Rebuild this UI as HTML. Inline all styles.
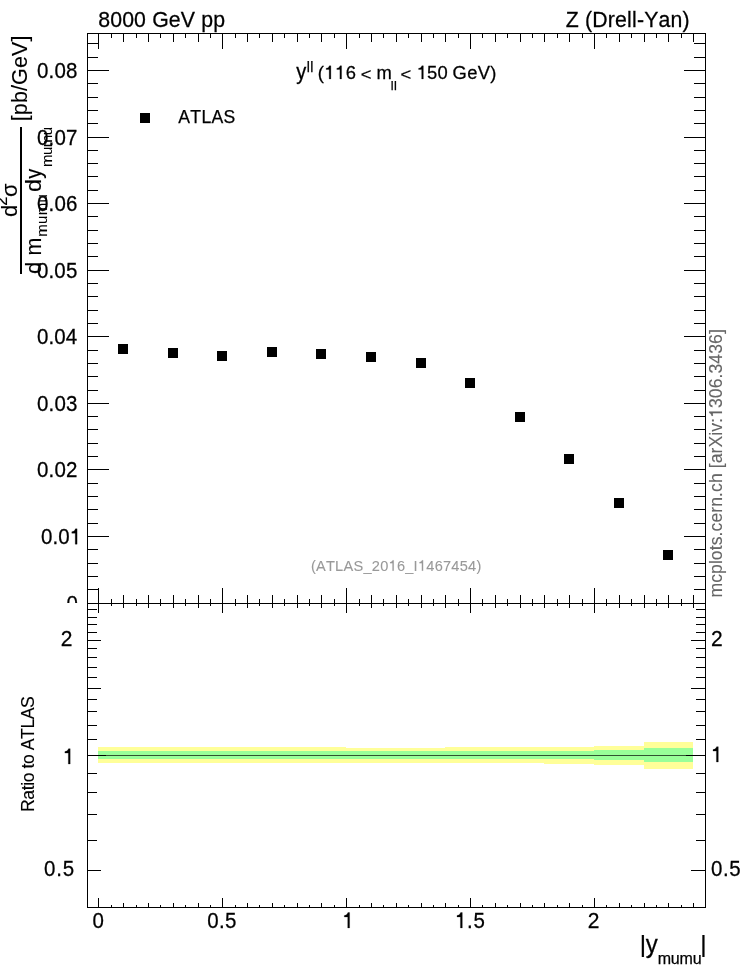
<!DOCTYPE html>
<html><head><meta charset="utf-8"><title>Z (Drell-Yan) 8000 GeV pp</title>
<style>
html,body{margin:0;padding:0;background:#fff;}
body{width:746px;height:972px;overflow:hidden;}
svg{display:block;will-change:transform;}
text{font-family:"Liberation Sans",sans-serif;font-kerning:none;}
</style></head><body>
<svg width="746" height="972" viewBox="0 0 746 972">
<rect x="0" y="0" width="746" height="972" fill="#fff"/>
<clipPath id="cu"><rect x="0" y="0" width="746" height="603"/></clipPath>
<g clip-path="url(#cu)">
<text transform="translate(66.40 611.20) scale(1 1.0900)" font-size="20.5" stroke="#000" stroke-width="0.25">0</text>
<text transform="translate(41.10 544.20) scale(1 1.0900)" font-size="20.5" x="0.00 11.45 17.19 28.64" stroke="#000" stroke-width="0.25">0.0 </text>
<path transform="translate(41.10 544.20) scale(1 1.0900) translate(28.64 0) scale(0.01001 -0.01001)" d="M735 0H550V1005H207V1140Q400 1160 480 1260Q540 1340 570 1409H735Z" fill="#000" stroke="#000" stroke-width="25.0"/>
<text transform="translate(36.90 477.20) scale(1 1.0900)" font-size="20.5" x="0.00 11.65 17.59 29.23" stroke="#000" stroke-width="0.25">0.02</text>
<text transform="translate(36.90 411.20) scale(1 1.0900)" font-size="20.5" x="0.00 11.60 17.50 29.10" stroke="#000" stroke-width="0.25">0.03</text>
<text transform="translate(36.90 344.20) scale(1 1.0900)" font-size="20.5" x="0.00 11.50 17.30 28.80" stroke="#000" stroke-width="0.25">0.04</text>
<text transform="translate(36.90 278.20) scale(1 1.0900)" font-size="20.5" x="0.00 11.59 17.47 29.06" stroke="#000" stroke-width="0.25">0.05</text>
<text transform="translate(36.90 211.20) scale(1 1.0900)" font-size="20.5" x="0.00 11.60 17.50 29.10" stroke="#000" stroke-width="0.25">0.06</text>
<text transform="translate(36.90 145.20) scale(1 1.0900)" font-size="20.5" x="0.00 11.65 17.59 29.23" stroke="#000" stroke-width="0.25">0.07</text>
<text transform="translate(36.90 78.20) scale(1 1.0900)" font-size="20.5" x="0.00 11.60 17.49 29.09" stroke="#000" stroke-width="0.25">0.08</text>
</g>
<g shape-rendering="crispEdges">
<rect x="98" y="747" width="248" height="16" fill="#ffff99"/>
<rect x="98" y="751" width="248" height="8" fill="#99ff99"/>
<rect x="346" y="748" width="99" height="15" fill="#ffff99"/>
<rect x="346" y="751" width="99" height="8" fill="#99ff99"/>
<rect x="445" y="747" width="99" height="16" fill="#ffff99"/>
<rect x="445" y="751" width="99" height="8" fill="#99ff99"/>
<rect x="544" y="747" width="50" height="17" fill="#ffff99"/>
<rect x="544" y="751" width="50" height="8" fill="#99ff99"/>
<rect x="594" y="746" width="50" height="19" fill="#ffff99"/>
<rect x="594" y="750" width="50" height="10" fill="#99ff99"/>
<rect x="644" y="742" width="49" height="27" fill="#ffff99"/>
<rect x="644" y="748" width="49" height="14" fill="#99ff99"/>
<rect x="88" y="755" width="617" height="1" fill="#000" fill-opacity="0.68"/>
<path fill="#000" d="M87 33h619v1h-619zM87 603h619v1h-619zM87 907h619v1h-619zM87 33h1v875h-1zM705 33h1v875h-1zM98 34h1v15h-1zM98 588h1v15h-1zM98 604h1v9h-1zM98 898h1v9h-1zM111 34h1v4h-1zM111 599h1v4h-1zM111 604h1v2h-1zM111 905h1v2h-1zM123 34h1v8h-1zM123 595h1v8h-1zM123 604h1v4h-1zM123 903h1v4h-1zM136 34h1v4h-1zM136 599h1v4h-1zM136 604h1v2h-1zM136 905h1v2h-1zM148 34h1v8h-1zM148 595h1v8h-1zM148 604h1v4h-1zM148 903h1v4h-1zM160 34h1v4h-1zM160 599h1v4h-1zM160 604h1v2h-1zM160 905h1v2h-1zM173 34h1v8h-1zM173 595h1v8h-1zM173 604h1v4h-1zM173 903h1v4h-1zM185 34h1v4h-1zM185 599h1v4h-1zM185 604h1v2h-1zM185 905h1v2h-1zM198 34h1v8h-1zM198 595h1v8h-1zM198 604h1v4h-1zM198 903h1v4h-1zM210 34h1v4h-1zM210 599h1v4h-1zM210 604h1v2h-1zM210 905h1v2h-1zM222 34h1v15h-1zM222 588h1v15h-1zM222 604h1v9h-1zM222 898h1v9h-1zM235 34h1v4h-1zM235 599h1v4h-1zM235 604h1v2h-1zM235 905h1v2h-1zM247 34h1v8h-1zM247 595h1v8h-1zM247 604h1v4h-1zM247 903h1v4h-1zM259 34h1v4h-1zM259 599h1v4h-1zM259 604h1v2h-1zM259 905h1v2h-1zM272 34h1v8h-1zM272 595h1v8h-1zM272 604h1v4h-1zM272 903h1v4h-1zM284 34h1v4h-1zM284 599h1v4h-1zM284 604h1v2h-1zM284 905h1v2h-1zM297 34h1v8h-1zM297 595h1v8h-1zM297 604h1v4h-1zM297 903h1v4h-1zM309 34h1v4h-1zM309 599h1v4h-1zM309 604h1v2h-1zM309 905h1v2h-1zM321 34h1v8h-1zM321 595h1v8h-1zM321 604h1v4h-1zM321 903h1v4h-1zM334 34h1v4h-1zM334 599h1v4h-1zM334 604h1v2h-1zM334 905h1v2h-1zM346 34h1v15h-1zM346 588h1v15h-1zM346 604h1v9h-1zM346 898h1v9h-1zM359 34h1v4h-1zM359 599h1v4h-1zM359 604h1v2h-1zM359 905h1v2h-1zM371 34h1v8h-1zM371 595h1v8h-1zM371 604h1v4h-1zM371 903h1v4h-1zM383 34h1v4h-1zM383 599h1v4h-1zM383 604h1v2h-1zM383 905h1v2h-1zM396 34h1v8h-1zM396 595h1v8h-1zM396 604h1v4h-1zM396 903h1v4h-1zM408 34h1v4h-1zM408 599h1v4h-1zM408 604h1v2h-1zM408 905h1v2h-1zM421 34h1v8h-1zM421 595h1v8h-1zM421 604h1v4h-1zM421 903h1v4h-1zM433 34h1v4h-1zM433 599h1v4h-1zM433 604h1v2h-1zM433 905h1v2h-1zM445 34h1v8h-1zM445 595h1v8h-1zM445 604h1v4h-1zM445 903h1v4h-1zM458 34h1v4h-1zM458 599h1v4h-1zM458 604h1v2h-1zM458 905h1v2h-1zM470 34h1v15h-1zM470 588h1v15h-1zM470 604h1v9h-1zM470 898h1v9h-1zM482 34h1v4h-1zM482 599h1v4h-1zM482 604h1v2h-1zM482 905h1v2h-1zM495 34h1v8h-1zM495 595h1v8h-1zM495 604h1v4h-1zM495 903h1v4h-1zM507 34h1v4h-1zM507 599h1v4h-1zM507 604h1v2h-1zM507 905h1v2h-1zM520 34h1v8h-1zM520 595h1v8h-1zM520 604h1v4h-1zM520 903h1v4h-1zM532 34h1v4h-1zM532 599h1v4h-1zM532 604h1v2h-1zM532 905h1v2h-1zM544 34h1v8h-1zM544 595h1v8h-1zM544 604h1v4h-1zM544 903h1v4h-1zM557 34h1v4h-1zM557 599h1v4h-1zM557 604h1v2h-1zM557 905h1v2h-1zM569 34h1v8h-1zM569 595h1v8h-1zM569 604h1v4h-1zM569 903h1v4h-1zM582 34h1v4h-1zM582 599h1v4h-1zM582 604h1v2h-1zM582 905h1v2h-1zM594 34h1v15h-1zM594 588h1v15h-1zM594 604h1v9h-1zM594 898h1v9h-1zM606 34h1v4h-1zM606 599h1v4h-1zM606 604h1v2h-1zM606 905h1v2h-1zM619 34h1v8h-1zM619 595h1v8h-1zM619 604h1v4h-1zM619 903h1v4h-1zM631 34h1v4h-1zM631 599h1v4h-1zM631 604h1v2h-1zM631 905h1v2h-1zM644 34h1v8h-1zM644 595h1v8h-1zM644 604h1v4h-1zM644 903h1v4h-1zM656 34h1v4h-1zM656 599h1v4h-1zM656 604h1v2h-1zM656 905h1v2h-1zM668 34h1v8h-1zM668 595h1v8h-1zM668 604h1v4h-1zM668 903h1v4h-1zM681 34h1v4h-1zM681 599h1v4h-1zM681 604h1v2h-1zM681 905h1v2h-1zM693 34h1v8h-1zM693 595h1v8h-1zM693 604h1v4h-1zM693 903h1v4h-1zM88 589h10v1h-10zM694 589h11v1h-11zM88 576h10v1h-10zM694 576h11v1h-11zM88 563h10v1h-10zM694 563h11v1h-11zM88 549h10v1h-10zM694 549h11v1h-11zM88 536h21v1h-21zM684 536h21v1h-21zM88 523h10v1h-10zM694 523h11v1h-11zM88 509h10v1h-10zM694 509h11v1h-11zM88 496h10v1h-10zM694 496h11v1h-11zM88 483h10v1h-10zM694 483h11v1h-11zM88 469h21v1h-21zM684 469h21v1h-21zM88 456h10v1h-10zM694 456h11v1h-11zM88 443h10v1h-10zM694 443h11v1h-11zM88 429h10v1h-10zM694 429h11v1h-11zM88 416h10v1h-10zM694 416h11v1h-11zM88 403h21v1h-21zM684 403h21v1h-21zM88 390h10v1h-10zM694 390h11v1h-11zM88 376h10v1h-10zM694 376h11v1h-11zM88 363h10v1h-10zM694 363h11v1h-11zM88 350h10v1h-10zM694 350h11v1h-11zM88 336h21v1h-21zM684 336h21v1h-21zM88 323h10v1h-10zM694 323h11v1h-11zM88 310h10v1h-10zM694 310h11v1h-11zM88 296h10v1h-10zM694 296h11v1h-11zM88 283h10v1h-10zM694 283h11v1h-11zM88 270h21v1h-21zM684 270h21v1h-21zM88 256h10v1h-10zM694 256h11v1h-11zM88 243h10v1h-10zM694 243h11v1h-11zM88 230h10v1h-10zM694 230h11v1h-11zM88 216h10v1h-10zM694 216h11v1h-11zM88 203h21v1h-21zM684 203h21v1h-21zM88 190h10v1h-10zM694 190h11v1h-11zM88 176h10v1h-10zM694 176h11v1h-11zM88 163h10v1h-10zM694 163h11v1h-11zM88 150h10v1h-10zM694 150h11v1h-11zM88 137h21v1h-21zM684 137h21v1h-21zM88 123h10v1h-10zM694 123h11v1h-11zM88 110h10v1h-10zM694 110h11v1h-11zM88 97h10v1h-10zM694 97h11v1h-11zM88 83h10v1h-10zM694 83h11v1h-11zM88 70h21v1h-21zM684 70h21v1h-21zM88 57h10v1h-10zM694 57h11v1h-11zM88 43h10v1h-10zM694 43h11v1h-11zM88 870h13v1h-13zM691 870h14v1h-14zM88 840h9v1h-9zM696 840h9v1h-9zM88 814h9v1h-9zM696 814h9v1h-9zM88 792h9v1h-9zM696 792h9v1h-9zM88 773h9v1h-9zM696 773h9v1h-9zM88 755h18v1h-18zM686 755h19v1h-19zM88 739h9v1h-9zM696 739h9v1h-9zM88 725h9v1h-9zM696 725h9v1h-9zM88 711h9v1h-9zM696 711h9v1h-9zM88 699h9v1h-9zM696 699h9v1h-9zM88 688h13v1h-13zM691 688h14v1h-14zM88 677h9v1h-9zM696 677h9v1h-9zM88 667h9v1h-9zM696 667h9v1h-9zM88 657h9v1h-9zM696 657h9v1h-9zM88 648h9v1h-9zM696 648h9v1h-9zM88 640h13v1h-13zM691 640h14v1h-14zM88 632h9v1h-9zM696 632h9v1h-9zM88 624h9v1h-9zM696 624h9v1h-9zM88 617h9v1h-9zM696 617h9v1h-9zM88 609h9v1h-9zM696 609h9v1h-9zM118 344h10v10h-10zM168 348h10v10h-10zM217 351h10v10h-10zM267 347h10v10h-10zM316 349h10v10h-10zM366 352h10v10h-10zM416 358h10v10h-10zM465 378h10v10h-10zM515 412h10v10h-10zM564 454h10v10h-10zM614 498h10v10h-10zM663 550h10v10h-10zM140 113h10v10h-10zM20 127h2v147h-2z"/>
</g>
<text transform="translate(98.17 27.00) scale(1 1.0750)" font-size="21.3" x="0.00 11.98 23.97 35.95 47.94 54.00 70.70 82.69 97.03 103.09 115.07" stroke="#000" stroke-width="0.25">8000 GeV pp</text>
<text transform="translate(565.72 27.00) scale(1 1.0750)" font-size="21.3" x="0.00 13.19 19.28 26.55 42.11 49.37 61.40 66.30 71.21 78.48 92.86 104.88 116.90" stroke="#000" stroke-width="0.25">Z (Drell-Yan)</text>
<text transform="translate(296.15 79.00) scale(1 1.1000)" font-size="20.0" stroke="#000" stroke-width="0.25">y</text>
<text transform="translate(306.76 71.50) scale(1 1.0000)" font-size="14.0" x="0.00 3.47" stroke="#000" stroke-width="0.25">ll</text>
<text transform="translate(317.66 78.90) scale(1 1.0350)" font-size="18.4" x="0.00 6.60 17.31 28.02" stroke="#000" stroke-width="0.25">(  6</text>
<path transform="translate(317.66 78.90) scale(1 1.0350) translate(6.60 0) scale(0.00898 -0.00898)" d="M735 0H550V1005H207V1140Q400 1160 480 1260Q540 1340 570 1409H735Z" fill="#000" stroke="#000" stroke-width="27.8"/>
<path transform="translate(317.66 78.90) scale(1 1.0350) translate(17.31 0) scale(0.00898 -0.00898)" d="M735 0H550V1005H207V1140Q400 1160 480 1260Q540 1340 570 1409H735Z" fill="#000" stroke="#000" stroke-width="27.8"/>
<text transform="translate(360.69 80.40) scale(1 0.8900)" font-size="18.4" stroke="#000" stroke-width="0.25">&lt;</text>
<text transform="translate(376.38 78.90) scale(1 1.0350)" font-size="18.4" stroke="#000" stroke-width="0.25">m</text>
<text transform="translate(390.64 89.70) scale(1 1.0000)" font-size="12.8" x="0.00 3.38" stroke="#000" stroke-width="0.25">ll</text>
<text transform="translate(400.49 80.40) scale(1 0.8900)" font-size="18.4" stroke="#000" stroke-width="0.25">&lt;</text>
<text transform="translate(416.74 78.90) scale(1 1.0350)" font-size="18.4" x="0.00 10.37 20.75" stroke="#000" stroke-width="0.25"> 50</text>
<path transform="translate(416.74 78.90) scale(1 1.0350) translate(0.00 0) scale(0.00898 -0.00898)" d="M735 0H550V1005H207V1140Q400 1160 480 1260Q540 1340 570 1409H735Z" fill="#000" stroke="#000" stroke-width="27.8"/>
<text transform="translate(452.57 78.90) scale(1 1.0350)" font-size="18.4" x="0.00 14.59 25.09 37.64" stroke="#000" stroke-width="0.25">GeV)</text>
<text transform="translate(178.27 122.60) scale(1 1.0000)" font-size="17.6" x="0.00 12.06 23.13 33.24 45.30" stroke="#000" stroke-width="0.25">ATLAS</text>
<text transform="translate(310.89 570.70) scale(1 1.0400)" font-size="14.6" x="0.00 5.10 15.08 24.24 32.60 42.58 52.56 60.92 69.28 77.64 86.00 94.36 102.73 107.02 115.38 123.74 132.11 140.47 148.83 157.19 165.55" fill="#999999" stroke="#999999" stroke-width="0.1">(ATLAS_20 6_I 467454)</text>
<path transform="translate(310.89 570.70) scale(1 1.0400) translate(77.64 0) scale(0.00713 -0.00713)" d="M735 0H550V1005H207V1140Q400 1160 480 1260Q540 1340 570 1409H735Z" fill="#999999" stroke="#999999" stroke-width="14.0"/>
<path transform="translate(310.89 570.70) scale(1 1.0400) translate(107.02 0) scale(0.00713 -0.00713)" d="M735 0H550V1005H207V1140Q400 1160 480 1260Q540 1340 570 1409H735Z" fill="#999999" stroke="#999999" stroke-width="14.0"/>
<text transform="translate(722.00 597.57) rotate(-90) scale(1 1.0600)" font-size="17.6" x="0.00 14.73 23.61 33.47 37.45 47.31 52.27 61.15 66.11 74.98 84.84 90.78 100.64 105.60 114.47 124.33 129.30 134.26 144.12 150.05 161.87 165.85 174.72 179.68 189.54 199.41 209.27 219.13 224.09 233.95 243.81 253.67 263.53" fill="#666666" stroke="#666666" stroke-width="0.1">mcplots.cern.ch [arXiv: 306.3436]</text>
<path transform="translate(722.00 597.57) rotate(-90) scale(1 1.0600) translate(179.68 0) scale(0.00859 -0.00859)" d="M735 0H550V1005H207V1140Q400 1160 480 1260Q540 1340 570 1409H735Z" fill="#666666" stroke="#666666" stroke-width="11.6"/>
<text transform="translate(34.10 811.94) rotate(-90) scale(1 1.0000)" font-size="17.6" x="0.00 12.28 21.64 26.11 29.59 38.95 43.42 47.88 57.24 61.70 73.01 83.34 92.70 104.01" stroke="#000" stroke-width="0.1">Ratio to ATLAS</text>
<text transform="translate(60.74 646.00) scale(1 1.0600)" font-size="21.0" stroke="#000" stroke-width="0.25">2</text>
<path transform="translate(62.83 764.00) scale(1 1.0870) translate(0.00 0) scale(0.01001 -0.01001)" d="M735 0H550V1005H207V1140Q400 1160 480 1260Q540 1340 570 1409H735Z" fill="#000" stroke="#000" stroke-width="25.0"/>
<text transform="translate(43.90 876.40) scale(1 1.0870)" font-size="20.5" x="0.00 12.33 18.96" stroke="#000" stroke-width="0.25">0.5</text>
<text transform="translate(711.04 646.00) scale(1 1.0600)" font-size="21.0" stroke="#000" stroke-width="0.25">2</text>
<path transform="translate(710.93 762.00) scale(1 1.0870) translate(0.00 0) scale(0.01001 -0.01001)" d="M735 0H550V1005H207V1140Q400 1160 480 1260Q540 1340 570 1409H735Z" fill="#000" stroke="#000" stroke-width="25.0"/>
<text transform="translate(711.10 876.40) scale(1 1.0870)" font-size="20.5" x="0.00 11.98 18.26" stroke="#000" stroke-width="0.25">0.5</text>
<text transform="translate(92.40 927.90) scale(1 1.0870)" font-size="20.5" stroke="#000" stroke-width="0.25">0</text>
<text transform="translate(207.20 927.90) scale(1 1.0870)" font-size="20.5" x="0.00 11.78 17.86" stroke="#000" stroke-width="0.25">0.5</text>
<path transform="translate(342.23 927.90) scale(1 1.0870) translate(0.00 0) scale(0.01001 -0.01001)" d="M735 0H550V1005H207V1140Q400 1160 480 1260Q540 1340 570 1409H735Z" fill="#000" stroke="#000" stroke-width="25.0"/>
<text transform="translate(454.93 927.90) scale(1 1.0870)" font-size="20.5" x="0.00 12.12 18.53" stroke="#000" stroke-width="0.25"> .5</text>
<path transform="translate(454.93 927.90) scale(1 1.0870) translate(0.00 0) scale(0.01001 -0.01001)" d="M735 0H550V1005H207V1140Q400 1160 480 1260Q540 1340 570 1409H735Z" fill="#000" stroke="#000" stroke-width="25.0"/>
<text transform="translate(587.84 927.90) scale(1 1.0800)" font-size="21.0" stroke="#000" stroke-width="0.25">2</text>
<text transform="translate(639.81 952.00) scale(1 0.9600)" font-size="24.5" stroke="#000" stroke-width="0.25">|</text>
<text transform="translate(645.64 953.00) scale(1 1.0600)" font-size="24.0" stroke="#000" stroke-width="0.25">y</text>
<text transform="translate(657.74 963.80) scale(1 1.0000)" font-size="16.0" x="0.00 13.12 21.81 34.93" stroke="#000" stroke-width="0.25">mumu</text>
<text transform="translate(700.21 952.00) scale(1 0.9600)" font-size="24.5" stroke="#000" stroke-width="0.25">|</text>
<text transform="translate(27.20 121.33) rotate(-90) scale(1 1.0300)" font-size="21.5" x="0.00 6.12 18.22 30.32 36.44 53.31 65.41 79.89" stroke="#000" stroke-width="0.1">[pb/GeV]</text>
<text transform="translate(17.00 217.12) rotate(-90) scale(1 1.0000)" font-size="22.0" stroke="#000" stroke-width="0.1">d</text>
<text transform="translate(6.80 205.73) rotate(-90) scale(1 1.0000)" font-size="16.5" stroke="#000" stroke-width="0.1">2</text>
<text transform="translate(17.00 197.12) rotate(-90) scale(1 1.0000)" font-size="22.0" stroke="#000" stroke-width="0.1">σ</text>
<text transform="translate(41.20 274.12) rotate(-90) scale(1 1.0000)" font-size="22.0" stroke="#000" stroke-width="0.1">d</text>
<text transform="translate(41.20 255.53) rotate(-90) scale(1 1.0000)" font-size="21.5" stroke="#000" stroke-width="0.1">m</text>
<text transform="translate(47.30 236.80) rotate(-90) scale(1 1.0000)" font-size="15.0" x="0.00 12.80 21.45 34.25" stroke="#000" stroke-width="0.1">mumu</text>
<text transform="translate(41.20 191.88) rotate(-90) scale(1 0.9440)" font-size="23.3" stroke="#000" stroke-width="0.1">d</text>
<text transform="translate(41.20 178.75) rotate(-90) scale(1 1.1000)" font-size="20.0" stroke="#000" stroke-width="0.1">y</text>
<text transform="translate(51.90 166.90) rotate(-90) scale(1 1.0000)" font-size="15.0" x="0.00 11.97 19.78 31.75" stroke="#000" stroke-width="0.1">mumu</text>
</svg></body></html>
